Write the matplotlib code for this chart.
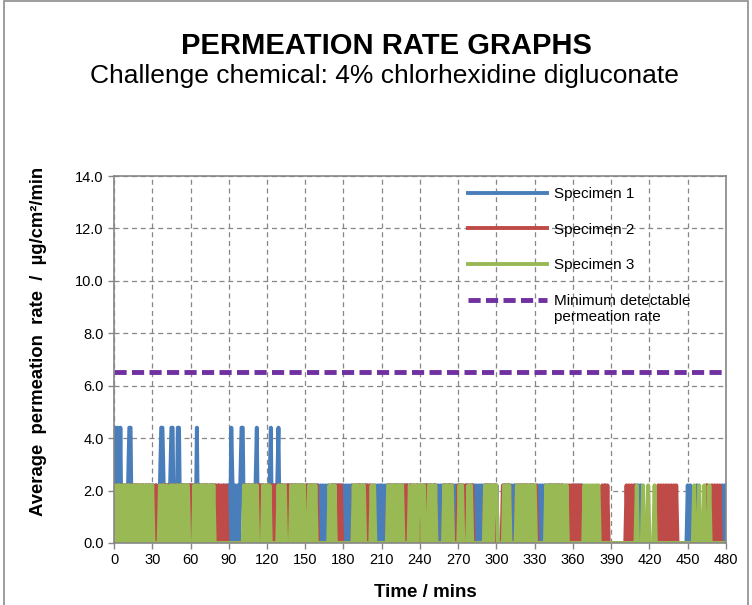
import numpy as np
import matplotlib
matplotlib.use("Agg")
import matplotlib.pyplot as plt
from matplotlib.patches import Rectangle

plt.rcParams['font.family'] = ['Liberation Sans', 'DejaVu Sans']

# readings every minute, 0 -> 0.0, 1 -> 2.2, 2 -> 4.4 ug/cm2/min
levels = {'0': 0.0, '1': 2.2, '2': 4.4}

spec1_txt = (
    "0202020100 0122010110 1011010110 1101011221 0110122010 2201101101 "
    "1011020101 1011011110 0010001001 1021010101 2201101011 0120101101 "
    "0112011012 0110101101 1011010110 0110110101 1010101011 0101101101 "
    "1010101100 1011010110 0100010101 1010101101 0110101101 1011010010 "
    "1101011010 0110101011 0101101010 1101001101 0110101010 1011011010 "
    "1000001101 1010110101 0110101101 0010101011 0101101011 0110010000 "
    "0101010100 0000000000 0000010000 0000000000 0000000001 0101000000 "
    "0000000000 0000000000 0000000000 1010000100 0000010000 0000000101 "
    "0"
)
spec2_txt = (
    "0101101011 0110101101 1011010110 1001001011 0110101101 1010110101 "
    "1101011010 1011010101 1010101010 0000000000 0001011010 1010110101 "
    "0101101011 0110101101 1010110101 0110101101 0000000000 0110101010 "
    "0000000010 1011010101 0101000000 0000011010 1101011010 1011010110 "
    "0101101011 0110000001 1011010000 1010101010 1100000000 0101101011 "
    "0000010101 1000001011 0101101011 0100000000 0110101101 0100000101 "
    "1010101000 0000000000 0001010100 0000000000 0010101010 0000000000 "
    "0000000101 0101010101 0100000000 0000000000 0000010001 0101010000 "
    "0"
)
spec3_txt = (
    "0101101011 0110101101 1011010110 1000001011 0100101101 1011010110 "
    "0001011010 1101011010 0000000000 0000000000 0010110101 1010000101 "
    "1010000001 0101100001 0110101101 0001011010 0000000001 0101000000 "
    "0000000010 1101011000 0010100000 0000011010 1101011000 0010110101 "
    "1101000101 1010000001 0110110000 0101000010 1000000000 0101101011 "
    "1000001010 1000001101 0110101101 1000000001 0110101101 0101010000 "
    "0000000001 0101010101 1000000000 0000000000 0000000000 1000010001 "
    "0000100000 0000000000 0000000000 0000010001 0001000100 0000000000 "
    "0"
)

spec1 = np.array([levels[c] for c in spec1_txt.replace(" ", "")])
spec2 = np.array([levels[c] for c in spec2_txt.replace(" ", "")])
spec3 = np.array([levels[c] for c in spec3_txt.replace(" ", "")])
minutes = np.arange(len(spec1))
mdl = 6.53

fig = plt.figure(figsize=(7.52, 6.05), dpi=100)
fig.patches.append(Rectangle((0.005, -0.01), 0.99, 1.008, transform=fig.transFigure,
                             fill=False, edgecolor="#8c8c8c", lw=1.2))

fig.text(0.514, 0.924, "PERMEATION RATE GRAPHS", ha="center", va="center",
         fontsize=21, fontweight="bold")
fig.text(0.511, 0.874, "Challenge chemical: 4% chlorhexidine digluconate",
         ha="center", va="center", fontsize=19)

ax = fig.add_axes([0.1516, 0.1025, 0.8138, 0.6065])
ax.plot(minutes, spec1, color="#4a7ebb", lw=2.8, label="Specimen 1")
ax.plot(minutes, spec2, color="#be4b48", lw=2.8, label="Specimen 2")
ax.plot(minutes, spec3, color="#98b954", lw=2.8, label="Specimen 3")
ax.plot([0, 480], [mdl, mdl], color="#7030a0", lw=3.5, dashes=(2.5, 1.1),
        label="Minimum detectable\npermeation rate")

ax.set_xlim(0, 480)
ax.set_ylim(0, 14)
ax.set_xticks(np.arange(0, 481, 30))
ax.set_yticks(np.arange(0, 14.1, 2))
ax.set_yticklabels([f"{v:.1f}" for v in np.arange(0, 14.1, 2)])
ax.tick_params(labelsize=10.5, color="#868686", length=4, width=1)
ax.grid(True, color="#868686", ls=(0, (4, 3)), lw=0.9)
for s in ax.spines.values():
    s.set_color("#868686")
    s.set_linewidth(1.2)

ax.set_xlabel("Time / mins", fontsize=13.5, fontweight="bold", va="center")
ax.xaxis.set_label_coords(0.509, -0.134)
ax.set_ylabel("Average  permeation  rate  /  µg/cm²/min", fontsize=13.3,
              fontweight="bold", va="center")
ax.yaxis.set_label_coords(-0.124, 0.55)

leg = ax.legend(loc="upper left", bbox_to_anchor=(0.578, 0.969), frameon=False,
                borderaxespad=0, borderpad=0, fontsize=11, handlelength=5.2,
                handletextpad=0.45, labelspacing=1.4)
# keep the dashed key level with the first line of its two-line label
mdl_key = leg.get_lines()[3]
mdl_key.set_ydata(np.asarray(mdl_key.get_ydata()) + 6.3)

fig.savefig("out.png", dpi=100)
